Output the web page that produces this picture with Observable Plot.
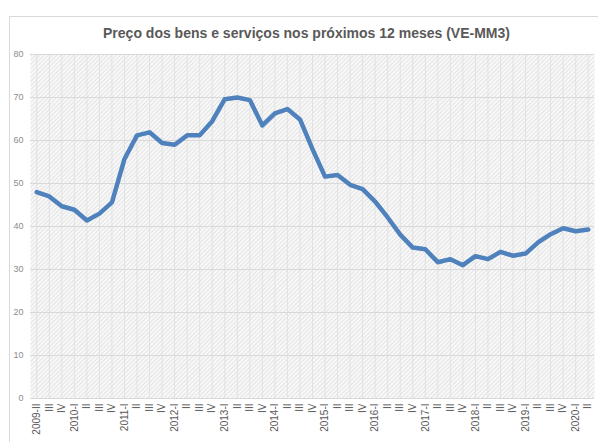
<!DOCTYPE html>
<html><head><meta charset="utf-8">
<script src="https://cdn.jsdelivr.net/npm/d3@7"></script>
<script src="https://cdn.jsdelivr.net/npm/@observablehq/plot@0.6"></script>
<style>
body{margin:0;background:#fff;}
#wrap{position:relative;width:598px;height:442px;overflow:hidden;}
#border{position:absolute;left:9px;top:16px;width:600px;height:440px;border:1px solid #d9d9d9;box-sizing:border-box;}
#wrap svg{position:absolute;left:0;top:0;}
</style>
</head><body><div id="wrap"><div id="border"></div></div>
<script>
const quarters = [
  "2009-II","III","IV",
  "2010-I","II ","III ","IV ",
  "2011-I","II  ","III  ","IV  ",
  "2012-I","II   ","III   ","IV   ",
  "2013-I","II    ","III    ","IV    ",
  "2014-I","II     ","III     ","IV     ",
  "2015-I","II      ","III      ","IV      ",
  "2016-I","II       ","III       ","IV       ",
  "2017-I","II        ","III        ","IV        ",
  "2018-I","II         ","III         ","IV         ",
  "2019-I","II          ","III          ","IV          ",
  "2020-I","II           "
];
const values = [
  48.0, 47.0, 44.7,
  43.9, 41.4, 43.0, 45.6,
  55.7, 61.2, 61.9, 59.4,
  59.0, 61.2, 61.2, 64.5,
  69.6, 70.0, 69.4, 63.5,
  66.3, 67.3, 64.9, 58.0,
  51.6, 52.0, 49.7, 48.7,
  45.8, 42.1, 38.1, 35.1,
  34.7, 31.7, 32.4, 31.0,
  33.1, 32.4, 34.1, 33.2,
  33.7, 36.3, 38.2, 39.6,
  38.9, 39.3
];
const yTicks = [0, 10, 20, 30, 40, 50, 60, 70, 80];
const title = "Preço dos bens e serviços nos próximos 12 meses (VE-MM3)";

const data = quarters.map((q, i) => ({q, v: values[i]}));

const chart = Plot.plot({
  width: 598, height: 442,
  marginTop: 54, marginBottom: 44, marginLeft: 30, marginRight: 4,
  style: {fontFamily: "'Liberation Sans', Arial, sans-serif", background: "transparent"},
  x: {type: "point", domain: quarters, padding: 0.5, round: false, label: null},
  y: {domain: [0, 80], label: null},
  marks: [
    Plot.frame({fill: "url(#hatch)", stroke: null}),
    Plot.ruleX(quarters, {stroke: "#e2e2e2", strokeWidth: 1}),
    Plot.ruleY(yTicks, {stroke: "#d9d9d9", strokeWidth: 1}),
    Plot.axisY({ticks: yTicks, tickSize: 0, tickPadding: 7, fontSize: 9, fill: "#8c8c8c", label: null}),
    Plot.axisX({tickRotate: -90, tickSize: 0, tickPadding: 5, fontSize: 10, fill: "#595959", label: null, tickFormat: d => d.trim()}),
    Plot.line(data, {x: "q", y: "v", stroke: "#4f81bd", strokeWidth: 4.5, strokeLinejoin: "round", strokeLinecap: "round"}),
    Plot.text([title], {frameAnchor: "top", lineAnchor: "middle", dy: -21, dx: -6, fontWeight: "bold", fontSize: 14, fill: "#595959"})
  ]
});

const defs = d3.select(chart).insert("defs", ":first-child");
const p = defs.append("pattern").attr("id", "hatch").attr("patternUnits", "userSpaceOnUse")
  .attr("width", 3).attr("height", 3).attr("patternTransform", "rotate(45)");
p.append("rect").attr("width", 3).attr("height", 3).attr("fill", "#f8f8f8");
p.append("line").attr("x1", 0.5).attr("y1", 0).attr("x2", 0.5).attr("y2", 3).attr("stroke", "#e4e4e4").attr("stroke-width", 1);

document.getElementById("wrap").appendChild(chart);
</script>
</body></html>
